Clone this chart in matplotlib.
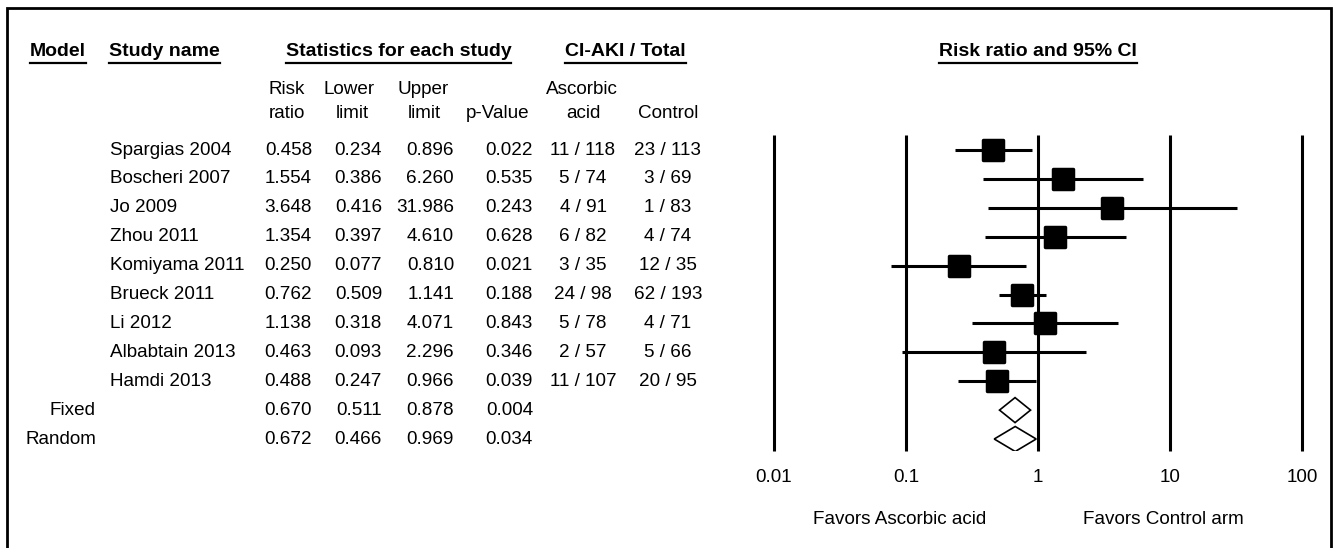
import matplotlib
matplotlib.use('Agg')
import matplotlib.pyplot as plt
import matplotlib.transforms as mtransforms
from matplotlib.markers import MarkerStyle
from matplotlib.lines import Line2D
from matplotlib.patches import Rectangle

# data
studies = ['Spargias 2004', 'Boscheri 2007', 'Jo 2009', 'Zhou 2011', 'Komiyama 2011',
           'Brueck 2011', 'Li 2012', 'Albabtain 2013', 'Hamdi 2013']
risk_ratio = [0.458, 1.554, 3.648, 1.354, 0.250, 0.762, 1.138, 0.463, 0.488]
lower_limit = [0.234, 0.386, 0.416, 0.397, 0.077, 0.509, 0.318, 0.093, 0.247]
upper_limit = [0.896, 6.260, 31.986, 4.610, 0.810, 1.141, 4.071, 2.296, 0.966]
p_values = [0.022, 0.535, 0.243, 0.628, 0.021, 0.188, 0.843, 0.346, 0.039]
asc_events = [11, 5, 4, 6, 3, 24, 5, 2, 11]
asc_total = [118, 74, 91, 82, 35, 98, 78, 57, 107]
ctrl_events = [23, 3, 1, 4, 12, 62, 4, 5, 20]
ctrl_total = [113, 69, 83, 74, 35, 193, 71, 66, 95]

models = ['Fixed', 'Random']
pooled_rr = [0.670, 0.672]
pooled_lower = [0.511, 0.466]
pooled_upper = [0.878, 0.969]
pooled_p = [0.004, 0.034]

ticks = [0.01, 0.1, 1, 10, 100]
tick_labels = ['0.01', '0.1', '1', '10', '100']

W, H = 1334, 548
plt.rcParams['font.family'] = ['Liberation Sans', 'DejaVu Sans']
FS = 13.6
HFS = 14

fig = plt.figure(figsize=(W / 100, H / 100), dpi=100)


def fx(px):
    return px / W


def fy(py):
    return 1 - py / H


# forest panel, pixel layout
x_left, x_right = 774, 1302
y_top, y_bot = 135, 451
row0, step = 150, 28.9

ax = fig.add_axes([fx(x_left), fy(y_bot), (x_right - x_left) / W, (y_bot - y_top) / H])
ax.set_xscale('log')
ax.set_xlim(0.01, 100)
ax.set_ylim((y_bot - row0) / step, (y_top - row0) / step)
for s in ax.spines.values():
    s.set_visible(False)
ax.set_yticks([])
ax.set_xticks(ticks)
ax.set_xticklabels(tick_labels, fontsize=FS)
ax.minorticks_off()
ax.tick_params(axis='x', length=0, pad=13)
ax.patch.set_alpha(0)

ylo, yhi = ax.get_ylim()
ax.vlines(ticks, ylo, yhi, colors='black', lw=2.2, clip_on=False, zorder=1)

rows = list(range(len(studies)))
ax.hlines(rows, lower_limit, upper_limit, colors='black', lw=2.2, zorder=3)
ax.plot(risk_ratio, rows, ls='none', marker=MarkerStyle('s', joinstyle='round'),
        ms=15, mew=2.5, mfc='black', mec='black', zorder=4)

half_h = 12.5 / step
for i, (r, lo, hi) in enumerate(zip(pooled_rr, pooled_lower, pooled_upper)):
    y = len(studies) + i
    ax.fill([lo, r, hi, r], [y, y - half_h, y, y + half_h],
            facecolor='white', edgecolor='black', lw=1.2, zorder=4)

# table text, rows share the forest axes' y scale
trans = mtransforms.blended_transform_factory(fig.transFigure, ax.transData)


def cell(px, row, s, ha):
    fig.text(fx(px), row, s, ha=ha, va='center', fontsize=FS, transform=trans)


for i, name in enumerate(studies):
    cell(110, i, name, 'left')
    cell(312, i, f'{risk_ratio[i]:.3f}', 'right')
    cell(382, i, f'{lower_limit[i]:.3f}', 'right')
    cell(454, i, f'{upper_limit[i]:.3f}', 'right')
    cell(533, i, f'{p_values[i]:.3f}', 'right')
    cell(583, i, f'{asc_events[i]} / {asc_total[i]}', 'center')
    cell(668, i, f'{ctrl_events[i]} / {ctrl_total[i]}', 'center')

for j, m in enumerate(models):
    r = len(studies) + j
    cell(96, r, m, 'right')
    cell(312, r, f'{pooled_rr[j]:.3f}', 'right')
    cell(382, r, f'{pooled_lower[j]:.3f}', 'right')
    cell(454, r, f'{pooled_upper[j]:.3f}', 'right')
    cell(533, r, f'{pooled_p[j]:.3f}', 'right')

# headers
headers = [('Model', 58, 'center'), ('Study name', 109, 'left'),
           ('Statistics for each study', 398.5, 'center'),
           ('CI-AKI / Total', 625.5, 'center'),
           ('Risk ratio and 95% CI', 1038, 'center')]
head_texts = [fig.text(fx(px), fy(52), s, ha=ha, va='center', fontsize=HFS,
                       fontweight='bold') for s, px, ha in headers]

sub1 = [('Risk', 287), ('Lower', 349), ('Upper', 423), ('Ascorbic', 582)]
sub2 = [('ratio', 287), ('limit', 352), ('limit', 424), ('p-Value', 498),
        ('acid', 583), ('Control', 668)]
for s, px in sub1:
    fig.text(fx(px), fy(89), s, ha='center', va='center', fontsize=FS)
for s, px in sub2:
    fig.text(fx(px), fy(113), s, ha='center', va='center', fontsize=FS)

fig.text(fx(900), fy(520), 'Favors Ascorbic acid', ha='center', va='center', fontsize=FS)
fig.text(fx(1163), fy(520), 'Favors Control arm', ha='center', va='center', fontsize=FS)

# underline headers
fig.canvas.draw()
for t in head_texts:
    bb = t.get_window_extent()
    fig.add_artist(Line2D([fx(bb.x0), fx(bb.x1)], [fy(63), fy(63)], color='black',
                          lw=1.6, transform=fig.transFigure))

# outer frame running off the bottom edge
fig.add_artist(Rectangle((fx(7), fy(600)), (1331 - 7) / W, (600 - 8) / H, fill=False,
                         lw=2, ec='black', transform=fig.transFigure, clip_on=False))

fig.savefig('out.png', dpi=100)
